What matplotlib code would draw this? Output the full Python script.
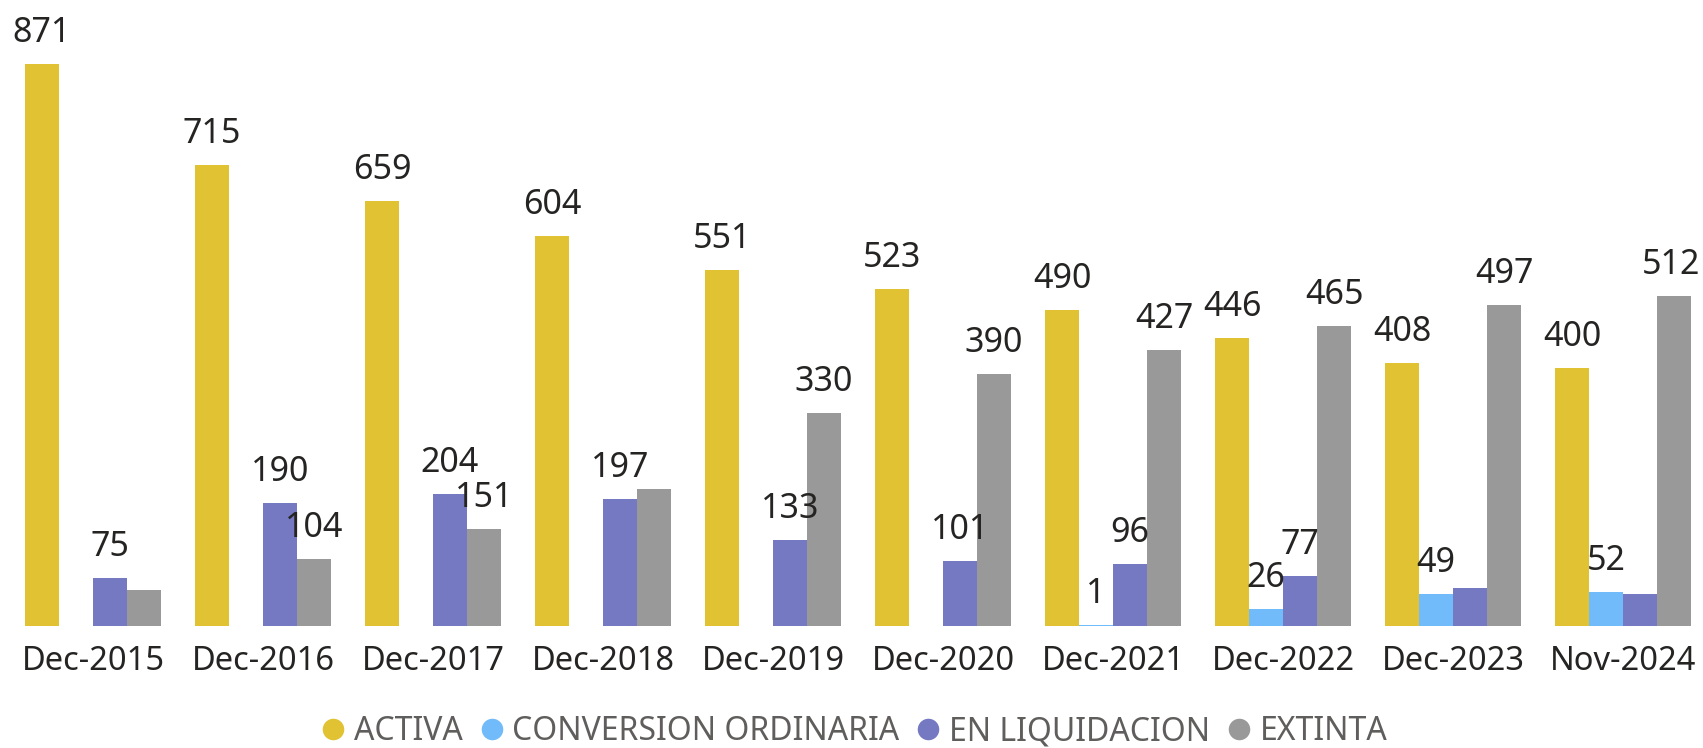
import numpy as np
import matplotlib
matplotlib.use("Agg")
import matplotlib.pyplot as plt
from matplotlib.lines import Line2D

plt.rcParams['font.family'] = ['Noto Sans', 'DejaVu Sans']

# Datos
periodos = ["Dec-2015", "Dec-2016", "Dec-2017", "Dec-2018", "Dec-2019",
            "Dec-2020", "Dec-2021", "Dec-2022", "Dec-2023", "Nov-2024"]
activa = [871, 715, 659, 604, 551, 523, 490, 446, 408, 400]
conversion = [np.nan, np.nan, np.nan, np.nan, np.nan, np.nan, 1, 26, 49, 52]
liquidacion = [75, 190, 204, 197, 133, 101, 96, 77, 59, 49]
extinta = [56, 104, 151, 213, 330, 390, 427, 465, 497, 512]

series = ["ACTIVA", "CONVERSION ORDINARIA", "EN LIQUIDACION", "EXTINTA"]
valores = [activa, conversion, liquidacion, extinta]
colores = ["#E0C232", "#72BBFA", "#7479C2", "#999999"]

# etiquetas que no aparecen en el original (solapadas)
etiquetas_ocultas = {"EXTINTA": ["Dec-2015", "Dec-2018"],
                     "EN LIQUIDACION": ["Dec-2023", "Nov-2024"]}

W, H = 1703, 748
fig = plt.figure(figsize=(W / 100, H / 100), dpi=100)

# ejes: linea base a 626 px, primer grupo centrado en 93 px
base_px = 626
ax = fig.add_axes([0, (H - base_px) / H, 1, base_px / H])
paso = 170.0
x0 = 93
ax.set_xlim(-x0 / paso, (W - x0) / paso)
ax.set_ylim(0, base_px / ((base_px - 64) / 871))

x = np.arange(len(periodos))
ancho = 0.2
etiquetas = []
for i, (nombre, vals, col) in enumerate(zip(series, valores, colores)):
    pos = x + (i - 1.5) * ancho
    ax.bar(pos, vals, width=ancho, color=col, linewidth=0)
    for p, v, per in zip(pos, vals, periodos):
        if np.isnan(v) or per in etiquetas_ocultas.get(nombre, []):
            continue
        t = ax.annotate(f"{int(v)}", (p, v), xytext=(0, 22), textcoords="offset pixels",
                        ha="center", va="baseline", fontsize=24.5, color="#252423")
        etiquetas.append(t)

ax.set_xticks(x)
ax.set_xticklabels(periodos, fontsize=23.5, color="#252423")
ax.tick_params(axis="x", length=0, pad=14)
ax.set_yticks([])
for s in ax.spines.values():
    s.set_visible(False)

handles = [Line2D([], [], marker="o", linestyle="", markersize=15.5,
                  markerfacecolor=c, markeredgewidth=0) for c in colores]
fig.legend(handles, series, loc="center", bbox_to_anchor=(0.502, 0.0215),
           ncol=4, frameon=False, fontsize=23, labelcolor="#605E5C",
           handlelength=0.7, handletextpad=0.3, columnspacing=0.55, borderpad=0,
           borderaxespad=0)

# mantener las etiquetas dentro de la figura
fig.canvas.draw()
r = fig.canvas.get_renderer()
for t in etiquetas:
    bb = t.get_window_extent(r)
    if bb.x1 > W - 3:
        t.xyann = (t.xyann[0] - (bb.x1 - (W - 3)), t.xyann[1])

fig.savefig("out.png", dpi=100)
